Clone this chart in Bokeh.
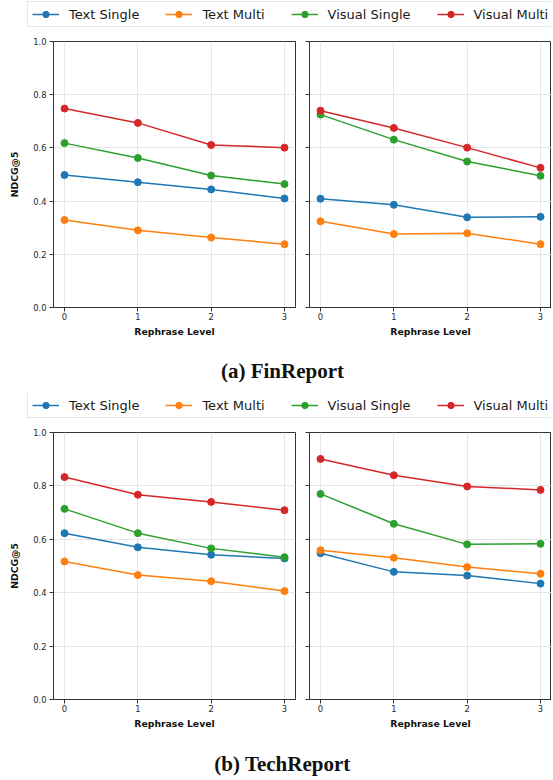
from bokeh.plotting import figure
from bokeh.layouts import column, row
from bokeh.models import (Legend, LegendItem, ColumnDataSource, FixedTicker, Range1d,
                          Label, CustomJSTickFormatter, NumeralTickFormatter)
from bokeh.embed import file_html
from bokeh.resources import INLINE

# ---------------- data ----------------
rephrase_levels = [0, 1, 2, 3]
x_tick_values = [0, 1, 2, 3]
y_tick_values = [0.0, 0.2, 0.4, 0.6, 0.8, 1.0]
series_names = ["Text Single", "Text Multi", "Visual Single", "Visual Multi"]
series_colors = ["#1f77b4", "#ff7f0e", "#2ca02c", "#d62728"]
x_axis_title = "Rephrase Level"
y_axis_title = "NDCG@5"
caption_fin = "(a) FinReport"
caption_tech = "(b) TechReport"

# FinReport - left panel
fin_left_text_single = [0.498, 0.471, 0.444, 0.410]
fin_left_text_multi = [0.329, 0.290, 0.263, 0.238]
fin_left_visual_single = [0.618, 0.562, 0.496, 0.464]
fin_left_visual_multi = [0.748, 0.694, 0.611, 0.601]
# FinReport - right panel
fin_right_text_single = [0.409, 0.386, 0.339, 0.341]
fin_right_text_multi = [0.324, 0.276, 0.279, 0.238]
fin_right_visual_single = [0.725, 0.631, 0.549, 0.495]
fin_right_visual_multi = [0.740, 0.675, 0.601, 0.525]
# TechReport - left panel
tech_left_text_single = [0.623, 0.570, 0.542, 0.528]
tech_left_text_multi = [0.517, 0.466, 0.443, 0.406]
tech_left_visual_single = [0.714, 0.623, 0.566, 0.533]
tech_left_visual_multi = [0.833, 0.767, 0.740, 0.709]
# TechReport - right panel
tech_right_text_single = [0.548, 0.478, 0.464, 0.434]
tech_right_text_multi = [0.559, 0.531, 0.496, 0.471]
tech_right_visual_single = [0.770, 0.658, 0.581, 0.583]
tech_right_visual_multi = [0.901, 0.840, 0.798, 0.785]

# ---------------- styling ----------------
SPINE = "#333333"
TEXT = "#262626"
GRID = "#e6e6e6"
FULL_W = 551


def make_panel(series_values, is_left, frame_h):
    if is_left:
        width, bl, br = 302, 53, 7
    else:
        width, bl, br = 249, 7, 0
    p = figure(width=width, height=8 + frame_h + 38,
               x_range=Range1d(-0.15, 3.15), y_range=Range1d(0, 1),
               output_backend="svg", toolbar_location=None, title=None,
               min_border_left=bl, min_border_right=br,
               min_border_top=8, min_border_bottom=38)
    p.background_fill_color = "white"
    p.border_fill_color = "white"
    p.outline_line_color = SPINE
    p.outline_line_width = 1
    p.outline_line_alpha = 1

    for vals, color in zip(series_values, series_colors):
        src = ColumnDataSource(dict(x=rephrase_levels, y=vals))
        p.line("x", "y", source=src, line_color=color, line_width=1.5)
        p.scatter("x", "y", source=src, size=7, fill_color=color, line_color=color)

    xt = FixedTicker(ticks=x_tick_values)
    yt = FixedTicker(ticks=y_tick_values)
    xa = p.xaxis[0]
    ya = p.yaxis[0]
    xa.ticker = xt
    ya.ticker = yt
    p.xgrid[0].ticker = xt
    p.ygrid[0].ticker = yt
    for g in (p.xgrid[0], p.ygrid[0]):
        g.grid_line_color = GRID
        g.grid_line_width = 1

    for ax in (xa, ya):
        ax.axis_line_color = SPINE
        ax.axis_line_width = 1
        ax.major_tick_line_color = SPINE
        ax.major_tick_in = 0
        ax.major_tick_out = 4
        ax.minor_tick_line_color = None
        ax.major_label_text_font = "DejaVu Sans"
        ax.major_label_text_font_size = "8.3px"
        ax.major_label_text_color = TEXT
        ax.axis_label_text_font = "DejaVu Sans"
        ax.axis_label_text_font_size = "9.3px"
        ax.axis_label_text_font_style = "bold"
        ax.axis_label_text_color = "#111111"

    xa.axis_label = x_axis_title
    xa.major_label_standoff = 1
    xa.axis_label_standoff = 3

    ya.formatter = NumeralTickFormatter(format="0.0")
    ya.major_label_standoff = 3
    if is_left:
        ya.axis_label = y_axis_title
        ya.axis_label_standoff = 10
    else:
        ya.formatter = CustomJSTickFormatter(code="return ''")
        ya.major_label_standoff = 0
    return p


def make_legend_fig(height, box_top, series_values):
    # the series are drawn outside the visible range; only their legend samples show
    lf = figure(width=FULL_W, height=height, x_range=Range1d(50, 51), y_range=Range1d(50, 51),
                output_backend="svg", toolbar_location=None, title=None,
                x_axis_type=None, y_axis_type=None, min_border=0)
    lf.outline_line_color = None
    lf.grid.visible = False
    items = []
    for name, color, vals in zip(series_names, series_colors, series_values):
        src = ColumnDataSource(dict(x=rephrase_levels, y=vals))
        r1 = lf.line("x", "y", source=src, line_color=color, line_width=1.5)
        r2 = lf.scatter("x", "y", source=src, size=7, fill_color=color, line_color=color)
        items.append(LegendItem(label=name, renderers=[r1, r2]))
    box_h = 24
    leg = Legend(items=items, orientation="horizontal", location=(27, height - box_top - box_h),
                 label_text_font="DejaVu Sans", label_text_font_size="13px",
                 label_text_color="#1a1a1a", glyph_width=27, glyph_height=16,
                 label_height=16, label_standoff=10, spacing=26, padding=4, margin=0,
                 border_line_color="#cccccc", border_line_width=1,
                 background_fill_color="white", background_fill_alpha=1)
    lf.add_layout(leg, "center")
    return lf


def make_caption(text, height, baseline_from_bottom, cx):
    c = figure(width=FULL_W, height=height, x_range=Range1d(0, 1), y_range=Range1d(0, 1),
               output_backend="svg", toolbar_location=None, title=None,
               x_axis_type=None, y_axis_type=None, min_border=0)
    c.outline_line_color = None
    c.grid.visible = False
    c.add_layout(Label(x=cx, y=baseline_from_bottom, x_units="screen", y_units="screen",
                       text=text, text_align="center", text_baseline="alphabetic",
                       text_font="Liberation Serif", text_font_style="bold",
                       text_font_size="21px", text_color="#111111"))
    return c


fin_left = [fin_left_text_single, fin_left_text_multi, fin_left_visual_single, fin_left_visual_multi]
fin_right = [fin_right_text_single, fin_right_text_multi, fin_right_visual_single, fin_right_visual_multi]
tech_left = [tech_left_text_single, tech_left_text_multi, tech_left_visual_single, tech_left_visual_multi]
tech_right = [tech_right_text_single, tech_right_text_multi, tech_right_visual_single, tech_right_visual_multi]

legend1 = make_legend_fig(33, 3, fin_left)
row1 = row(make_panel(fin_left, True, 266), make_panel(fin_right, False, 266))
cap1 = make_caption(caption_fin, 48, 23, 282)
legend2 = make_legend_fig(31, 1, tech_left)
row2 = row(make_panel(tech_left, True, 267), make_panel(tech_right, False, 267))
cap2 = make_caption(caption_tech, 41, 15, 282)

layout = column(legend1, row1, cap1, legend2, row2, cap2)

open("out.html", "w").write(file_html(layout, INLINE))
